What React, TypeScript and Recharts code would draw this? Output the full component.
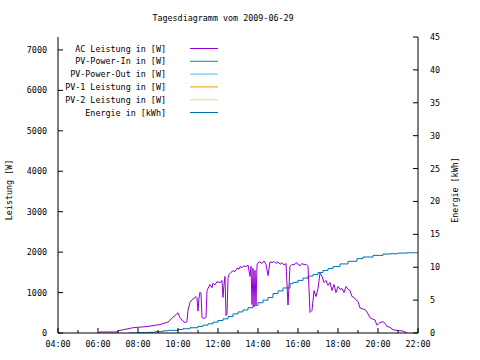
import React from 'react';
import { LineChart, Line, XAxis, YAxis, Legend } from 'recharts';

const TITLE = 'Tagesdiagramm vom 2009-06-29';
const LEFT_LABEL = 'Leistung [W]';
const RIGHT_LABEL = 'Energie [kWh]';

const SERIES_NAMES = [
  'AC Leistung in [W]',
  'PV-Power-In in [W]',
  'PV-Power-Out in [W]',
  'PV-1 Leistung in [W]',
  'PV-2 Leistung in [W]',
  'Energie in [kWh]',
];
const SERIES_COLORS = ['#9400d3', '#009e73', '#56b4e9', '#e69f00', '#f0e442', '#0072b2'];

const acTimes = [
  '06:00', '06:06', '06:57', '07:00', '07:15', '07:45', '08:27', '09:06', '09:30', '09:45',
  '09:51', '10:00', '10:06', '10:12', '10:18', '10:24', '10:27', '10:30', '10:36', '10:42',
  '10:48', '10:54', '10:57', '11:00', '11:03', '11:06', '11:09', '11:12', '11:18', '11:24',
  '11:27', '11:30', '11:36', '11:42', '11:45', '11:51', '11:57', '12:03', '12:09', '12:12',
  '12:15', '12:18', '12:21', '12:24', '12:27', '12:30', '12:33', '12:39', '12:45', '12:51',
  '12:57', '13:03', '13:06', '13:12', '13:18', '13:24', '13:30', '13:36', '13:39', '13:42',
  '13:45', '13:48', '13:51', '13:54', '13:57', '14:00', '14:06', '14:12', '14:18', '14:24',
  '14:30', '14:36', '14:42', '14:48', '14:54', '15:00', '15:06', '15:12', '15:18', '15:24',
  '15:30', '15:36', '15:42', '15:48', '15:54', '16:00', '16:06', '16:12', '16:18', '16:24',
  '16:30', '16:36', '16:42', '16:48', '16:54', '17:00', '17:06', '17:12', '17:18', '17:24',
  '17:30', '17:36', '17:42', '17:48', '17:54', '18:00', '18:06', '18:12', '18:18', '18:24',
  '18:30', '18:36', '18:42', '18:48', '18:54', '19:00', '19:06', '19:12', '19:21', '19:27',
  '19:36', '19:42', '19:51', '19:57', '20:06', '20:15', '20:21', '20:27', '20:36', '20:45',
  '21:00', '21:15', '21:27',
];
const acWatts = [
  0, 25, 25, 55, 80, 130, 160, 210, 270, 390,
  430, 500, 380, 320, 270, 260, 300, 560, 760, 820,
  860, 900, 870, 540, 860, 1010, 980, 380, 360, 380,
  1050, 1100, 1200, 1120, 1230, 1190, 1270, 1250, 1260, 1300,
  880, 1200, 1400, 430, 480, 1350, 1450, 1500, 1540, 1520,
  1600, 1580, 1640, 1620, 1660, 1640, 1680, 1400, 1650, 700,
  1600, 650, 1550, 700, 1680, 1740, 1760, 1720, 1780, 1700,
  1420, 1760, 1740, 1770, 1720, 1760, 1700, 1740, 1680, 1720,
  690, 1650, 1700, 1680, 1740, 1700, 1660, 1720, 1690, 1700,
  1650, 510, 560, 1050, 900, 1100, 1480, 1400, 1250, 1300,
  1180, 1250, 1050, 1200, 1000, 1150, 1080, 1100, 1000, 1150,
  1080, 1050, 900, 880, 820, 780, 620, 600, 580, 520,
  380, 350, 320, 190, 260, 280, 240, 160, 140, 80,
  60, 50, 0,
];

const energyTimes = [
  '07:33', '08:00', '08:30', '08:51', '09:15', '09:30', '10:00', '10:15', '10:36', '11:00',
  '11:15', '11:30', '11:45', '12:00', '12:15', '12:30', '12:45', '13:00', '13:15', '13:30',
  '13:45', '14:00', '14:15', '14:30', '14:45', '15:00', '15:15', '15:36', '15:45', '16:00',
  '16:15', '16:30', '16:45', '17:00', '17:15', '17:30', '17:45', '18:06', '18:30', '18:57',
  '19:15', '19:45', '20:15', '20:36', '21:00', '21:27', '22:00',
];
const energyKwh = [
  0.0, 0.05, 0.1, 0.2, 0.33, 0.4, 0.53, 0.65, 0.8, 1.0,
  1.2, 1.4, 1.65, 1.9, 2.15, 2.5, 2.9, 3.2, 3.5, 3.85,
  4.2, 4.6, 5.0, 5.4, 6.0, 6.4, 6.85, 7.5, 7.7, 8.0,
  8.35, 8.65, 8.9, 9.2, 9.5, 9.8, 10.1, 10.5, 10.9, 11.3,
  11.55, 11.8, 12.0, 12.05, 12.15, 12.2, 12.2,
];

const xTickHours = [4, 5, 6, 7, 8, 9, 10, 11, 12, 13, 14, 15, 16, 17, 18, 19, 20, 21, 22];
const leftTicks = [0, 1000, 2000, 3000, 4000, 5000, 6000, 7000];
const rightTicks = [0, 5, 10, 15, 20, 25, 30, 35, 40, 45];
const LEFT_MAX = 7320;
const RIGHT_MAX = 45;

const toHours = (s: string) => {
  const [h, m] = s.split(':').map(Number);
  return h + m / 60;
};
const fmtHour = (h: number) => `${String(h).padStart(2, '0')}:00`;

const acData = acTimes.map((s, i) => ({ t: toHours(s), ac: acWatts[i] }));
const energyData = energyTimes.map((s, i) => ({ t: toHours(s), energy: energyKwh[i] }));

const FONT = "'DejaVu Sans Mono', 'Liberation Mono', monospace";
const FS = 8.4;

const LeftTick = (props: any) => {
  const { x, y, payload } = props;
  return (
    <g>
      <line x1={x} x2={x + 5} y1={y} y2={y} stroke="#000" />
      <text x={x - 11} y={y + 3} textAnchor="end" fontFamily={FONT} fontSize={FS} fill="#000">
        {payload.value}
      </text>
    </g>
  );
};
const RightTick = (props: any) => {
  const { x, y, payload } = props;
  return (
    <g>
      <line x1={x} x2={x - 5} y1={y} y2={y} stroke="#000" />
      <text x={x + 12} y={y + 3} textAnchor="start" fontFamily={FONT} fontSize={FS} fill="#000">
        {payload.value}
      </text>
    </g>
  );
};
const MirrorRightTick = (props: any) => {
  const { x, y } = props;
  return <line x1={x} x2={x - 5} y1={y} y2={y} stroke="#000" />;
};
const BottomTick = (props: any) => {
  const { x, y, payload } = props;
  const major = payload.value % 2 === 0;
  return (
    <g>
      <line x1={x} x2={x} y1={y} y2={y - (major ? 5 : 3)} stroke="#000" />
      {major && (
        <text x={x} y={y + 14} textAnchor="middle" fontFamily={FONT} fontSize={FS} fill="#000">
          {fmtHour(payload.value)}
        </text>
      )}
    </g>
  );
};
const TopTick = (props: any) => {
  const { x, y, payload } = props;
  const major = payload.value % 2 === 0;
  return <line x1={x} x2={x} y1={y} y2={y + (major ? 5 : 3)} stroke="#000" />;
};

const renderLegend = () => (
  <svg width={480} height={125} style={{ display: 'block' }}>
    <text x={223} y={21} textAnchor="middle" fontFamily={FONT} fontSize={FS} fill="#000">
      {TITLE}
    </text>
    {SERIES_NAMES.map((n, i) => {
      const cy = 48.5 + i * 12.8;
      return (
        <g key={n}>
          <text x={166} y={cy + 3} textAnchor="end" fontFamily={FONT} fontSize={FS} fill="#000">
            {n}
          </text>
          <line x1={190} x2={218} y1={cy} y2={cy} stroke={SERIES_COLORS[i]} strokeWidth={1} />
        </g>
      );
    })}
  </svg>
);

export default function App() {
  return (
    <div style={{ position: 'absolute', left: 0, top: 0, width: 480, height: 360, background: '#fff' }}>
      <LineChart width={480} height={360} margin={{ top: 37, right: 0, bottom: 0, left: 0 }}>
        <XAxis
          xAxisId="bottom"
          type="number"
          dataKey="t"
          domain={[4, 22]}
          ticks={xTickHours}
          allowDataOverflow
          orientation="bottom"
          height={27}
          tickSize={0}
          tickMargin={0}
          tickLine={false}
          axisLine={{ stroke: '#000' }}
          tick={BottomTick}
          interval={0}
        />
        <XAxis
          xAxisId="top"
          type="number"
          dataKey="t"
          domain={[4, 22]}
          ticks={xTickHours}
          allowDataOverflow
          orientation="top"
          height={0}
          tickSize={0}
          tickMargin={0}
          tickLine={false}
          axisLine={{ stroke: '#000' }}
          tick={TopTick}
          interval={0}
        />
        <YAxis
          yAxisId="left"
          orientation="left"
          width={58}
          domain={[0, LEFT_MAX]}
          ticks={leftTicks}
          allowDataOverflow
          tickSize={0}
          tickMargin={0}
          tickLine={false}
          axisLine={{ stroke: '#000' }}
          tick={LeftTick}
          interval={0}
          label={(p: any) => {
            const vb = p.viewBox;
            const cx = vb.x + 9;
            const cy = vb.y + vb.height / 2 + 5;
            return (
              <text x={cx} y={cy} transform={`rotate(-90 ${cx} ${cy})`} textAnchor="middle" dy={3} fontFamily={FONT} fontSize={FS} fill="#000">
                {LEFT_LABEL}
              </text>
            );
          }}
        />
        <YAxis
          yAxisId="leftMirror"
          orientation="right"
          width={0}
          domain={[0, LEFT_MAX]}
          ticks={leftTicks}
          allowDataOverflow
          tickSize={0}
          tickMargin={0}
          tickLine={false}
          axisLine={false}
          tick={MirrorRightTick}
          interval={0}
        />
        <YAxis
          yAxisId="right"
          orientation="right"
          width={62}
          domain={[0, RIGHT_MAX]}
          ticks={rightTicks}
          allowDataOverflow
          tickSize={0}
          tickMargin={0}
          tickLine={false}
          axisLine={{ stroke: '#000' }}
          tick={RightTick}
          interval={0}
          label={(p: any) => {
            const vb = p.viewBox;
            const cx = vb.x + 37;
            const cy = vb.y + vb.height / 2 + 5;
            return (
              <text x={cx} y={cy} transform={`rotate(-90 ${cx} ${cy})`} textAnchor="middle" dy={3} fontFamily={FONT} fontSize={FS} fill="#000">
                {RIGHT_LABEL}
              </text>
            );
          }}
        />
        <Legend
          layout="horizontal"
          verticalAlign="middle"
          align="center"
          width={480}
          content={renderLegend}
          wrapperStyle={{ left: 0, top: 0, width: 480, height: 125, pointerEvents: 'none' }}
        />
        <Line
          xAxisId="bottom"
          yAxisId="right"
          data={energyData}
          dataKey="energy"
          type="stepAfter"
          stroke={SERIES_COLORS[5]}
          strokeWidth={1}
          dot={false}
          isAnimationActive={false}
        />
        <Line
          xAxisId="bottom"
          yAxisId="left"
          data={acData}
          dataKey="ac"
          type="linear"
          stroke={SERIES_COLORS[0]}
          strokeWidth={1}
          dot={false}
          isAnimationActive={false}
        />
      </LineChart>
    </div>
  );
}
